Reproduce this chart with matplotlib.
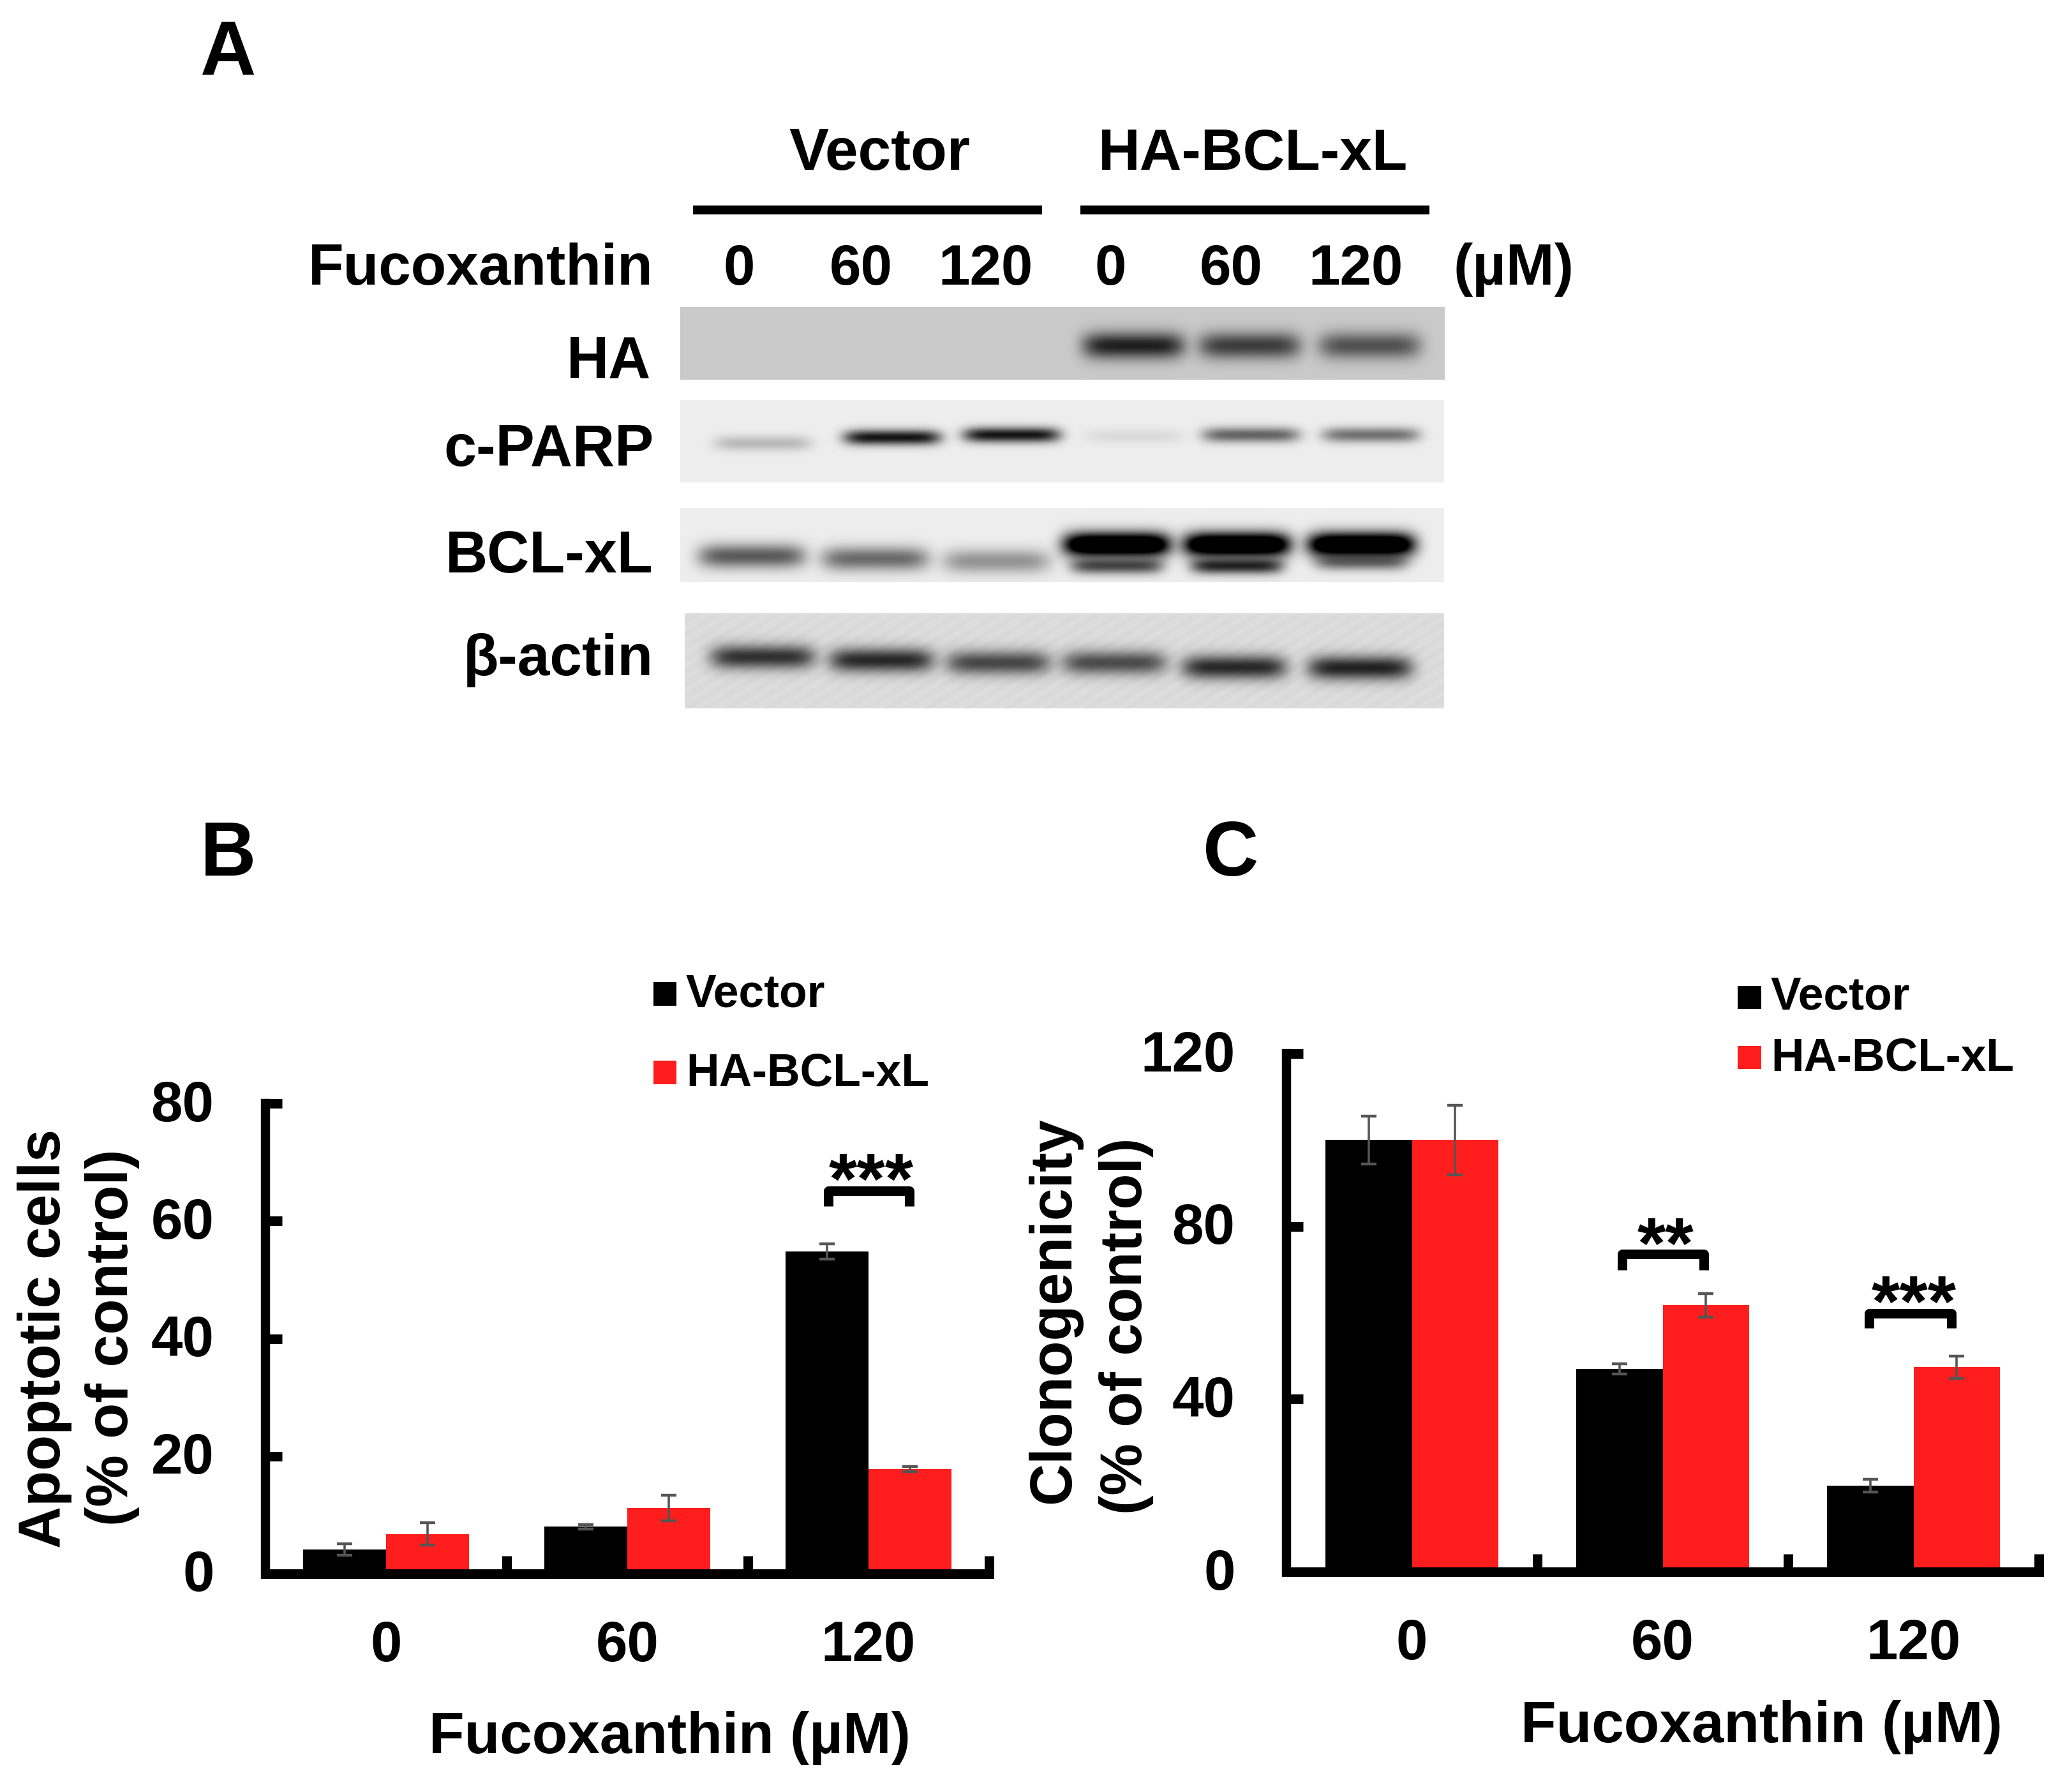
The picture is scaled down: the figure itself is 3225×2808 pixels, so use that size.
import matplotlib
matplotlib.use("Agg")
import matplotlib.pyplot as plt
from matplotlib.patches import Rectangle
from matplotlib.transforms import ScaledTranslation
import numpy as np

plt.rcParams['font.family'] = ['Liberation Sans', 'DejaVu Sans']
plt.rcParams['font.weight'] = 'bold'

W, H, DPI = 3225, 2808, 100
BLACK = '#000000'
RED = '#FF1D1D'
ERR = '#555555'

# bar data
doses = ['0', '60', '120']
series = ['Vector', 'HA-BCL-xL']
apoptosis_vector = [4.15, 8.0, 54.8]
apoptosis_ha = [6.75, 11.2, 17.8]
apoptosis_vector_err = [1.0, 0.35, 1.3]
apoptosis_ha_err = [1.9, 2.2, 0.45]
clono_vector = [100, 47, 20]
clono_ha = [100, 61.7, 47.4]
clono_vector_err = [5.5, 1.2, 1.5]
clono_ha_err = [8.1, 2.8, 2.6]

# blot band density per lane, 0 = nothing, 1 = black, above 1 = saturated
lanes = ['0', '60', '120', '0', '60', '120']
ha_density = [0, 0, 0, 0.85, 0.7, 0.6]
parp_density = [0.22, 0.92, 0.92, 0.08, 0.58, 0.52]
bclxl_density = [0.62, 0.55, 0.38, 1.5, 1.5, 1.5]
bclxl_lower = [0, 0, 0, 0.7, 0.85, 0.55]
actin_density = [0.78, 0.82, 0.68, 0.66, 0.82, 0.85]


def bands(img, xs, ys, centres, mids, density, half_w, half_h):
    for c, m, d in zip(centres, mids, density):
        prof_x = np.exp(-(np.abs(xs - c) / half_w) ** 6)
        prof_y = np.exp(-(np.abs(ys - m) / half_h) ** 2)
        img = img * np.clip(1 - d * np.outer(prof_y, prof_x), 0, 1)
    return img


def blot(ax, box, bg, rows, stripes=False):
    x0, x1, y0, y1 = box
    xs = np.arange(x0, x1)
    ys = np.arange(y0, y1)
    img = np.full((len(ys), len(xs)), bg, dtype=float)
    if stripes:
        xx, yy = np.meshgrid(xs, ys)
        img = img + 0.01 * np.sin((xx + 1.6 * yy) / 5.0)
    for r in rows:
        img = bands(img, xs, ys, *r)
    ax.imshow(img, extent=(x0, x1, y1, y0), cmap='gray', vmin=0, vmax=1,
              aspect='auto', interpolation='bilinear', zorder=1)


def bar_panel(pos, vec, ha, vec_err, ha_err, ymax, yticks):
    ax = fig.add_axes([pos[0] / W, 1 - pos[3] / H, (pos[1] - pos[0]) / W, (pos[3] - pos[2]) / H])
    x = np.arange(len(doses))
    w = 0.345
    err_kw = dict(ecolor=ERR, elinewidth=2.6, capsize=8.5, capthick=3.2)
    ax.bar(x - w / 2, vec, w, color=BLACK, yerr=vec_err, error_kw=err_kw)
    ax.bar(x + w / 2, ha, w, color=RED, yerr=ha_err, error_kw=err_kw)
    ax.set_xlim(-0.5, 2.5)
    ax.set_ylim(0, ymax)
    ax.set_yticks(yticks)
    ax.set_xticks(x)
    ax.set_xticklabels(doses)
    ax.set_xticks([0.5, 1.5, 2.5], minor=True)
    ax.tick_params(axis='x', which='major', length=0, pad=52, labelsize=64)
    ax.tick_params(axis='x', which='minor', direction='in', length=20, width=10.8)
    ax.tick_params(axis='y', direction='in', length=19, width=10.8, pad=58, labelsize=64)
    # digits sit a little high of the tick in the original
    nudge = ScaledTranslation(0, 5 / DPI, fig.dpi_scale_trans)
    for t in ax.get_yticklabels():
        t.set_transform(t.get_transform() + nudge)
    ax.spines['top'].set_visible(False)
    ax.spines['right'].set_visible(False)
    ax.spines['left'].set_linewidth(10.4)
    ax.spines['bottom'].set_linewidth(10.8)
    return ax


fig = plt.figure(figsize=(W / DPI, H / DPI), dpi=DPI)

bar_panel((416, 1550, 1729, 2466), apoptosis_vector, apoptosis_ha,
          apoptosis_vector_err, apoptosis_ha_err, 80, [0, 20, 40, 60, 80])
bar_panel((2016, 3195, 1651, 2463), clono_vector, clono_ha,
          clono_vector_err, clono_ha_err, 120, [0, 40, 80, 120])

# overlay in reference pixels for the blot and all the free text
pix = fig.add_axes([0, 0, 1, 1], facecolor='none')
pix.set_axis_off()

# panel A blots
blot(pix, (1066, 2264, 481, 595), 0.79,
     [([1195, 1398, 1585, 1776, 1958, 2146], [541] * 6, ha_density, 80, 21)])
blot(pix, (1066, 2263, 627, 756), 0.93,
     [([1195, 1398, 1585, 1777, 1960, 2148], [694, 685, 681, 683, 681, 681], parp_density, 76, 12)])
blot(pix, (1066, 2263, 796, 912), 0.93,
     [([1178, 1371, 1561, 1750, 1938, 2133], [871, 875, 879, 853, 853, 853], bclxl_density, 84, 19),
      ([1178, 1371, 1561, 1750, 1938, 2133], [871, 875, 879, 886, 886, 880], bclxl_lower, 72, 13)])
blot(pix, (1073, 2263, 961, 1110), 0.86,
     [([1195, 1381, 1564, 1746, 1934, 2131], [1029, 1034, 1038, 1038, 1045, 1046], actin_density, 82, 19)],
     stripes=True)

pix.set_xlim(0, W)
pix.set_ylim(H, 0)


def label(x, y, s, size, ha='center', va='baseline', rotation=0):
    pix.text(x, y, s, fontsize=size, fontweight='bold', ha=ha, va=va, rotation=rotation,
             rotation_mode='anchor' if rotation else 'default')


# panel letters
label(358, 117, 'A', 87)
label(358, 1372, 'B', 87)
label(1929, 1372, 'C', 87)

# panel A header
label(1378, 266, series[0], 67)
label(1964, 266, series[1], 65.5)
pix.plot([1086, 1633], [329, 329], color=BLACK, lw=10, solid_capstyle='butt')
pix.plot([1693, 2240], [329, 329], color=BLACK, lw=10, solid_capstyle='butt')
label(1024, 446, 'Fucoxanthin', 65.5, ha='right')
lane_x = [1158, 1349, 1545, 1740, 1929, 2125]
for lx, lane in zip(lane_x, lanes):
    label(lx, 446, lane, 64)
label(2277, 446, '(µM)', 65.5, ha='left')
label(1020, 591, 'HA', 66, ha='right')
label(1025, 730, 'c-PARP', 66, ha='right')
label(1024, 897, 'BCL-xL', 66, ha='right')
label(1024, 1058, 'β-actin', 65.5, ha='right')

# panel B text
label(70, 2098, 'Apoptotic cells', 66, va='center', rotation=90)
label(176, 2096, '(% of control)', 66, va='center', rotation=90)
label(1049, 2747, 'Fucoxanthin (µM)', 65.5)
pix.add_patch(Rectangle((1024, 1539), 36, 37, color=BLACK, lw=0))
pix.add_patch(Rectangle((1024, 1662), 36, 37, color=RED, lw=0))
label(1075, 1578, series[0], 51.5, ha='left')
label(1075, 1701, series[1], 51.5, ha='left')

# panel C text
label(1652, 2053, 'Clonogenicity', 66, va='center', rotation=90)
label(1765, 2078, '(% of control)', 66, va='center', rotation=90)
label(2760, 2730, 'Fucoxanthin (µM)', 65.5)
pix.add_patch(Rectangle((2723, 1545), 37, 36, color=BLACK, lw=0))
pix.add_patch(Rectangle((2723, 1639), 37, 36, color=RED, lw=0))
label(2775, 1582, series[0], 51.5, ha='left')
label(2775, 1677, series[1], 51.5, ha='left')


def bracket(x0, x1, top, bottom, stars, star_x, star_y):
    t = 7.5
    pix.plot([x0 + t, x0 + t, x1 - t, x1 - t], [bottom, top + t, top + t, bottom],
             color=BLACK, lw=10.8, solid_capstyle='butt', solid_joinstyle='round')
    label(star_x, star_y + 58, stars, 82)


bracket(1290, 1432, 1858, 1890, '***', 1365, 1828)
bracket(2534, 2677, 1957, 1990, '**', 2610, 1929)
bracket(2921, 3065, 2050, 2081, '***', 2999, 2020)

fig.savefig('out.png', dpi=DPI)
